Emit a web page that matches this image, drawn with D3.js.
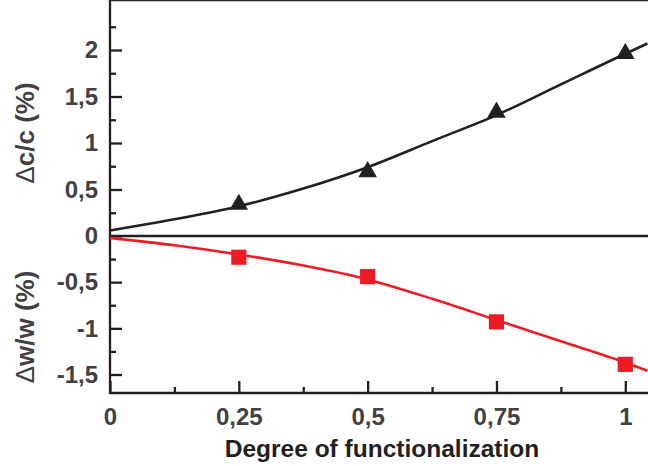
<!DOCTYPE html>
<html>
<head>
<meta charset="utf-8">
<script src="https://cdn.jsdelivr.net/npm/d3@7"></script>
<style>
    body { margin: 0; background: #fff; }
    svg text { font-family: "Liberation Sans", Arial, sans-serif; font-weight: bold; }
</style>
</head>
<body>
<svg id="chart" width="648" height="466"></svg>
<script>
var degree = [0.25, 0.5, 0.75, 1],
    dcValues = [0.34, 0.69, 1.33, 1.96],
    dwValues = [-0.23, -0.44, -0.93, -1.39],
    fitX = [0, 0.125, 0.25, 0.375, 0.5, 0.625, 0.75, 0.875, 1, 1.043],
    dcFit = [0.06, 0.18, 0.32, 0.51, 0.74, 1.02, 1.30, 1.63, 1.96, 2.07],
    dwFit = [-0.02, -0.10, -0.20, -0.32, -0.47, -0.68, -0.91, -1.14, -1.37, -1.46],
    xTicks = [0, 0.25, 0.5, 0.75, 1],
    xTickLabels = ["0", "0,25", "0,5", "0,75", "1"],
    xMinor = [0.125, 0.375, 0.625, 0.875],
    topTicks = [0, 0.5, 1, 1.5, 2],
    topTickLabels = ["0", "0,5", "1", "1,5", "2"],
    topMinor = [0.25, 0.75, 1.25, 1.75, 2.25],
    botTicks = [-0.5, -1, -1.5],
    botTickLabels = ["-0,5", "-1", "-1,5"],
    botMinor = [-0.25, -0.75, -1.25];

var svg = d3.select("#chart"),
    left = 110,
    right = 648,
    top = 9,
    zeroY = 236,
    bottom = 393,
    ink = "#231f20",
    grey = "#414042",
    red = "#ed1c24";

var x = d3.scaleLinear().domain([0, 1]).range([left, 625.3]),
    yTop = d3.scaleLinear().domain([0, 2]).range([zeroY, 50]),
    yBot = d3.scaleLinear().domain([0, -1.5]).range([zeroY, 374.5]);

function tickFmt(ticks, labels) {
    return function(d) { return labels[ticks.indexOf(d)]; };
}

function styleAxis(g) {
    g.select(".domain").remove();
    g.selectAll(".tick line").attr("stroke", ink).attr("stroke-width", 2.3);
    g.selectAll(".tick text")
        .attr("fill", grey)
        .style("font-size", "24px")
        .style("font-family", "'Liberation Sans', Arial, sans-serif")
        .style("font-weight", "bold");
}

// y axes, ticks pointing inward
svg.append("g")
    .attr("transform", "translate(" + left + ",0)")
    .call(d3.axisLeft(yTop).tickValues(topTicks).tickSize(-12).tickPadding(12)
        .tickFormat(tickFmt(topTicks, topTickLabels)))
    .call(styleAxis);
svg.append("g")
    .attr("transform", "translate(" + left + ",0)")
    .call(d3.axisLeft(yTop).tickValues(topMinor).tickSize(-6).tickFormat(""))
    .call(styleAxis);
svg.append("g")
    .attr("transform", "translate(" + left + ",0)")
    .call(d3.axisLeft(yBot).tickValues(botTicks).tickSize(-12).tickPadding(12)
        .tickFormat(tickFmt(botTicks, botTickLabels)))
    .call(styleAxis);
svg.append("g")
    .attr("transform", "translate(" + left + ",0)")
    .call(d3.axisLeft(yBot).tickValues(botMinor).tickSize(-6).tickFormat(""))
    .call(styleAxis);

// x axis
svg.append("g")
    .attr("transform", "translate(0," + bottom + ")")
    .call(d3.axisBottom(x).tickValues(xTicks).tickSize(-12).tickPadding(15)
        .tickFormat(tickFmt(xTicks, xTickLabels)))
    .call(styleAxis);
svg.append("g")
    .attr("transform", "translate(0," + bottom + ")")
    .call(d3.axisBottom(x).tickValues(xMinor).tickSize(-6).tickFormat(""))
    .call(styleAxis);

// frame lines
var frame = [
    [left, top, right, top],
    [left, zeroY, right, zeroY],
    [left, bottom, right, bottom],
    [left, top - 1, left, bottom + 1]
];
svg.selectAll("line.frame")
    .data(frame)
    .enter().append("line")
    .attr("class", "frame")
    .attr("x1", function(d) { return d[0]; })
    .attr("y1", function(d) { return d[1]; })
    .attr("x2", function(d) { return d[2]; })
    .attr("y2", function(d) { return d[3]; })
    .attr("stroke", ink)
    .attr("stroke-width", 2.3);

// fit curves
var dcLine = d3.line()
    .x(function(d, i) { return x(fitX[i]); })
    .y(function(d) { return yTop(d); })
    .curve(d3.curveMonotoneX);
var dwLine = d3.line()
    .x(function(d, i) { return x(fitX[i]); })
    .y(function(d) { return yBot(d); })
    .curve(d3.curveMonotoneX);

svg.append("path")
    .datum(dcFit)
    .attr("fill", "none")
    .attr("stroke", ink)
    .attr("stroke-width", 2.6)
    .attr("d", dcLine);
svg.append("path")
    .datum(dwFit)
    .attr("fill", "none")
    .attr("stroke", red)
    .attr("stroke-width", 2.6)
    .attr("d", dwLine);

// markers
svg.selectAll("path.tri")
    .data(dcValues)
    .enter().append("path")
    .attr("class", "tri")
    .attr("transform", function(d, i) { return "translate(" + x(degree[i]) + "," + yTop(d) + ")"; })
    .attr("d", d3.symbol().type(d3.symbolTriangle).size(150))
    .attr("fill", ink);
svg.selectAll("path.sq")
    .data(dwValues)
    .enter().append("path")
    .attr("class", "sq")
    .attr("transform", function(d, i) { return "translate(" + x(degree[i]) + "," + yBot(d) + ")"; })
    .attr("d", d3.symbol().type(d3.symbolSquare).size(230))
    .attr("fill", red);

// axis titles
svg.append("text")
    .attr("x", 382)
    .attr("y", 457)
    .attr("text-anchor", "middle")
    .attr("fill", ink)
    .style("font-size", "24.5px")
    .text("Degree of functionalization");

function yTitle(cy, letter) {
    var t = svg.append("text")
        .attr("transform", "translate(34," + cy + ") rotate(-90)")
        .attr("text-anchor", "middle")
        .attr("fill", grey)
        .style("font-size", "26px");
    t.append("tspan").style("font-weight", "normal").text("\u0394");
    t.append("tspan").text(letter + "/" + letter + " (%)");
}
yTitle(133, "c");
yTitle(327, "w");
</script>
</body>
</html>
